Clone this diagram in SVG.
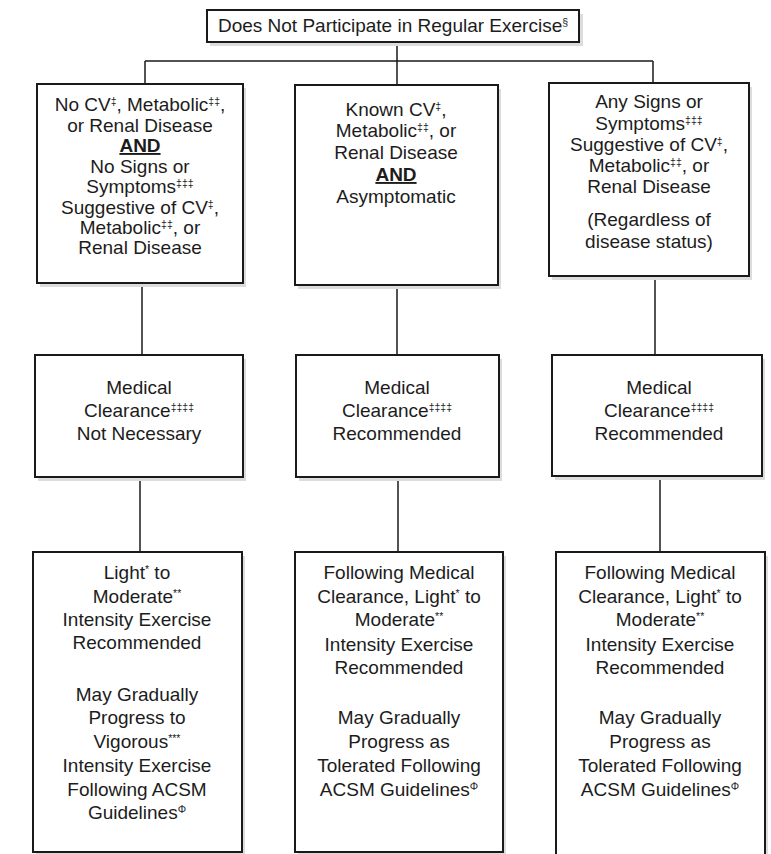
<svg xmlns="http://www.w3.org/2000/svg" width="771" height="854" viewBox="0 0 771 854">
<style>
.box{fill:#fff;stroke:#1a1a1a;stroke-width:2}
.shadow{fill:#dcdcdc}
.conn{stroke:#1a1a1a;stroke-width:1.5;fill:none}
text{font-family:"Liberation Sans",Arial,Helvetica,sans-serif;font-size:19px;fill:#1c1c1c;text-anchor:middle}
.sup{font-size:10.5px}
.and{font-weight:bold;text-decoration:underline}
</style>
<rect width="771" height="854" fill="#fff"/>
<g id="connectors">
<line class="conn" x1="397" y1="42" x2="397" y2="61"/>
<line class="conn" x1="145" y1="61" x2="653" y2="61"/>
<line class="conn" x1="145" y1="61" x2="145" y2="84"/>
<line class="conn" x1="397" y1="61" x2="397" y2="85"/>
<line class="conn" x1="653" y1="61" x2="653" y2="83"/>
<line class="conn" x1="142" y1="283" x2="142" y2="355"/>
<line class="conn" x1="397" y1="285" x2="397" y2="355"/>
<line class="conn" x1="655" y1="276" x2="655" y2="355"/>
<line class="conn" x1="140" y1="477" x2="140" y2="552"/>
<line class="conn" x1="398" y1="477" x2="398" y2="552"/>
<line class="conn" x1="660" y1="476" x2="660" y2="552"/>
</g>
<g id="top">
<rect class="shadow" x="210" y="14" width="373" height="32"/>
<rect class="box" x="207" y="10" width="372" height="32"/>
<text x="393" y="32">Does Not Participate in Regular Exercise<tspan class="sup" dy="-6">§</tspan></text>
</g>
<g id="r1c1">
<rect class="shadow" x="40" y="88" width="206" height="199"/>
<rect class="box" x="37" y="84" width="206" height="199"/>
<text x="140" y="111">No CV<tspan class="sup" dy="-6">‡</tspan><tspan dy="6">, Metabolic</tspan><tspan class="sup" dy="-6">‡‡</tspan><tspan dy="6">,</tspan></text>
<text x="140" y="132">or Renal Disease</text>
<text x="140" y="152" class="and">AND</text>
<text x="140" y="173">No Signs or</text>
<text x="140" y="193">Symptoms<tspan class="sup" dy="-6">‡‡‡</tspan></text>
<text x="140" y="214">Suggestive of CV<tspan class="sup" dy="-6">‡</tspan><tspan dy="6">,</tspan></text>
<text x="140" y="234">Metabolic<tspan class="sup" dy="-6">‡‡</tspan><tspan dy="6">, or</tspan></text>
<text x="140" y="254">Renal Disease</text>
</g>
<g id="r1c2">
<rect class="shadow" x="298" y="89" width="203" height="200"/>
<rect class="box" x="295" y="85" width="203" height="200"/>
<text x="396" y="116">Known CV<tspan class="sup" dy="-6">‡</tspan><tspan dy="6">,</tspan></text>
<text x="396" y="137">Metabolic<tspan class="sup" dy="-6">‡‡</tspan><tspan dy="6">, or</tspan></text>
<text x="396" y="159">Renal Disease</text>
<text x="396" y="181" class="and">AND</text>
<text x="396" y="203">Asymptomatic</text>
</g>
<g id="r1c3">
<rect class="shadow" x="552" y="87" width="200" height="193"/>
<rect class="box" x="549" y="83" width="200" height="193"/>
<text x="649" y="108">Any Signs or</text>
<text x="649" y="130">Symptoms<tspan class="sup" dy="-6">‡‡‡</tspan></text>
<text x="649" y="151">Suggestive of CV<tspan class="sup" dy="-6">‡</tspan><tspan dy="6">,</tspan></text>
<text x="649" y="172">Metabolic<tspan class="sup" dy="-6">‡‡</tspan><tspan dy="6">, or</tspan></text>
<text x="649" y="193">Renal Disease</text>
<text x="649" y="226">(Regardless of</text>
<text x="649" y="248">disease status)</text>
</g>
<g id="r2c1">
<rect class="shadow" x="38" y="359" width="208" height="122"/>
<rect class="box" x="35" y="355" width="208" height="122"/>
<text x="139" y="394">Medical</text>
<text x="139" y="417">Clearance<tspan class="sup" dy="-6">‡‡‡‡</tspan></text>
<text x="139" y="440">Not Necessary</text>
</g>
<g id="r2c2">
<rect class="shadow" x="299" y="359" width="203" height="122"/>
<rect class="box" x="296" y="355" width="203" height="122"/>
<text x="397" y="394">Medical</text>
<text x="397" y="417">Clearance<tspan class="sup" dy="-6">‡‡‡‡</tspan></text>
<text x="397" y="440">Recommended</text>
</g>
<g id="r2c3">
<rect class="shadow" x="555" y="359" width="210" height="121"/>
<rect class="box" x="552" y="355" width="210" height="121"/>
<text x="659" y="394">Medical</text>
<text x="659" y="417">Clearance<tspan class="sup" dy="-6">‡‡‡‡</tspan></text>
<text x="659" y="440">Recommended</text>
</g>
<g id="r3c1">
<rect class="shadow" x="36" y="556" width="209" height="300"/>
<rect class="box" x="33" y="552" width="209" height="300"/>
<text x="137" y="579">Light<tspan class="sup" dy="-6">*</tspan><tspan dy="6"> to</tspan></text>
<text x="137" y="603">Moderate<tspan class="sup" dy="-6">**</tspan></text>
<text x="137" y="626">Intensity Exercise</text>
<text x="137" y="649">Recommended</text>
<text x="137" y="701">May Gradually</text>
<text x="137" y="724">Progress to</text>
<text x="137" y="748">Vigorous<tspan class="sup" dy="-6">***</tspan></text>
<text x="137" y="772">Intensity Exercise</text>
<text x="137" y="796">Following ACSM</text>
<text x="137" y="819">Guidelines<tspan class="sup" dy="-6">Φ</tspan></text>
</g>
<g id="r3c2">
<rect class="shadow" x="298" y="556" width="208" height="300"/>
<rect class="box" x="295" y="552" width="208" height="300"/>
<text x="399" y="579">Following Medical</text>
<text x="399" y="603">Clearance, Light<tspan class="sup" dy="-6">*</tspan><tspan dy="6"> to</tspan></text>
<text x="399" y="626">Moderate<tspan class="sup" dy="-6">**</tspan></text>
<text x="399" y="651">Intensity Exercise</text>
<text x="399" y="674">Recommended</text>
<text x="399" y="724">May Gradually</text>
<text x="399" y="748">Progress as</text>
<text x="399" y="772">Tolerated Following</text>
<text x="399" y="796">ACSM Guidelines<tspan class="sup" dy="-6">Φ</tspan></text>
</g>
<g id="r3c3">
<rect class="shadow" x="559" y="556" width="209" height="302"/>
<rect class="box" x="556" y="552" width="209" height="310"/>
<text x="660" y="579">Following Medical</text>
<text x="660" y="603">Clearance, Light<tspan class="sup" dy="-6">*</tspan><tspan dy="6"> to</tspan></text>
<text x="660" y="626">Moderate<tspan class="sup" dy="-6">**</tspan></text>
<text x="660" y="651">Intensity Exercise</text>
<text x="660" y="674">Recommended</text>
<text x="660" y="724">May Gradually</text>
<text x="660" y="748">Progress as</text>
<text x="660" y="772">Tolerated Following</text>
<text x="660" y="796">ACSM Guidelines<tspan class="sup" dy="-6">Φ</tspan></text>
</g>
</svg>
